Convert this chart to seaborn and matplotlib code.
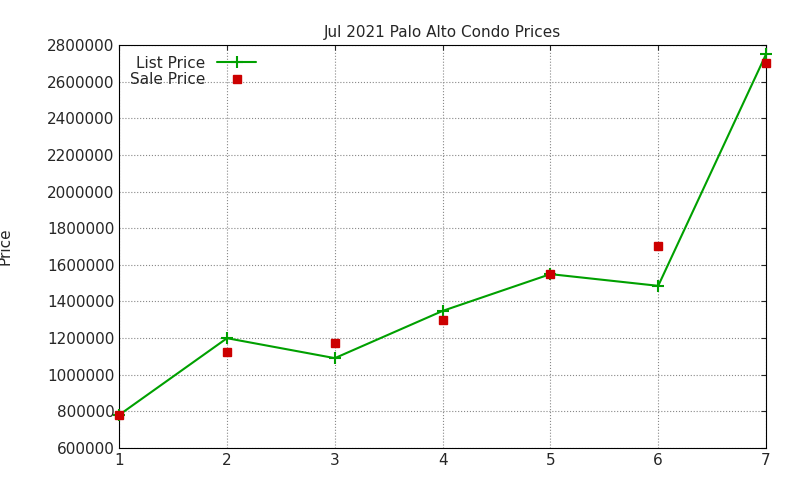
import matplotlib
matplotlib.use("Agg")
import matplotlib.pyplot as plt
import seaborn as sns

# data
units = [1, 2, 3, 4, 5, 6, 7]
list_price = [780000, 1199000, 1090000, 1348000, 1549000, 1485000, 2750000]
sale_price = [780000, 1125000, 1175000, 1300000, 1549000, 1705000, 2700000]

sns.set_style("white")
plt.rcParams['font.family'] = ['DejaVu Sans']

fig = plt.figure(figsize=(8, 4.8), dpi=100)
ax = fig.add_axes([0.149, 0.067, 0.8085, 0.839])

ax.plot(units, list_price, color="#00a000", marker="+", markersize=8,
        markeredgewidth=1.5, markeredgecolor="#00a000", linewidth=1.5,
        label="List Price", clip_on=False, zorder=3)
ax.plot(units, sale_price, color="#cc0000", marker="s", markersize=6,
        linestyle="none", markeredgecolor="#cc0000", label="Sale Price",
        clip_on=False, zorder=4)

ax.set_xlim(1, 7)
ax.set_ylim(600000, 2800000)
ax.set_yticks(range(600000, 2800001, 200000))
ax.set_xticks(units)
ax.ticklabel_format(axis="y", style="plain", useOffset=False)
ax.grid(True, linestyle=":", color="#888888", linewidth=0.8)
ax.tick_params(direction="in", top=True, right=True, labelsize=11)
for s in ax.spines.values():
    s.set_color("black")
    s.set_linewidth(0.8)
ax.set_title("Jul 2021 Palo Alto Condo Prices", fontsize=11)
ax.set_ylabel("Price", fontsize=11, labelpad=12)
ax.yaxis.set_label_coords(-0.165, 0.5)
ax.legend(loc="upper left", bbox_to_anchor=(0.0, 1.0), markerfirst=False,
          frameon=False, fontsize=11, handlelength=2.5, borderaxespad=0.3,
          labelspacing=0.1)

fig.savefig("out.png", dpi=100)
